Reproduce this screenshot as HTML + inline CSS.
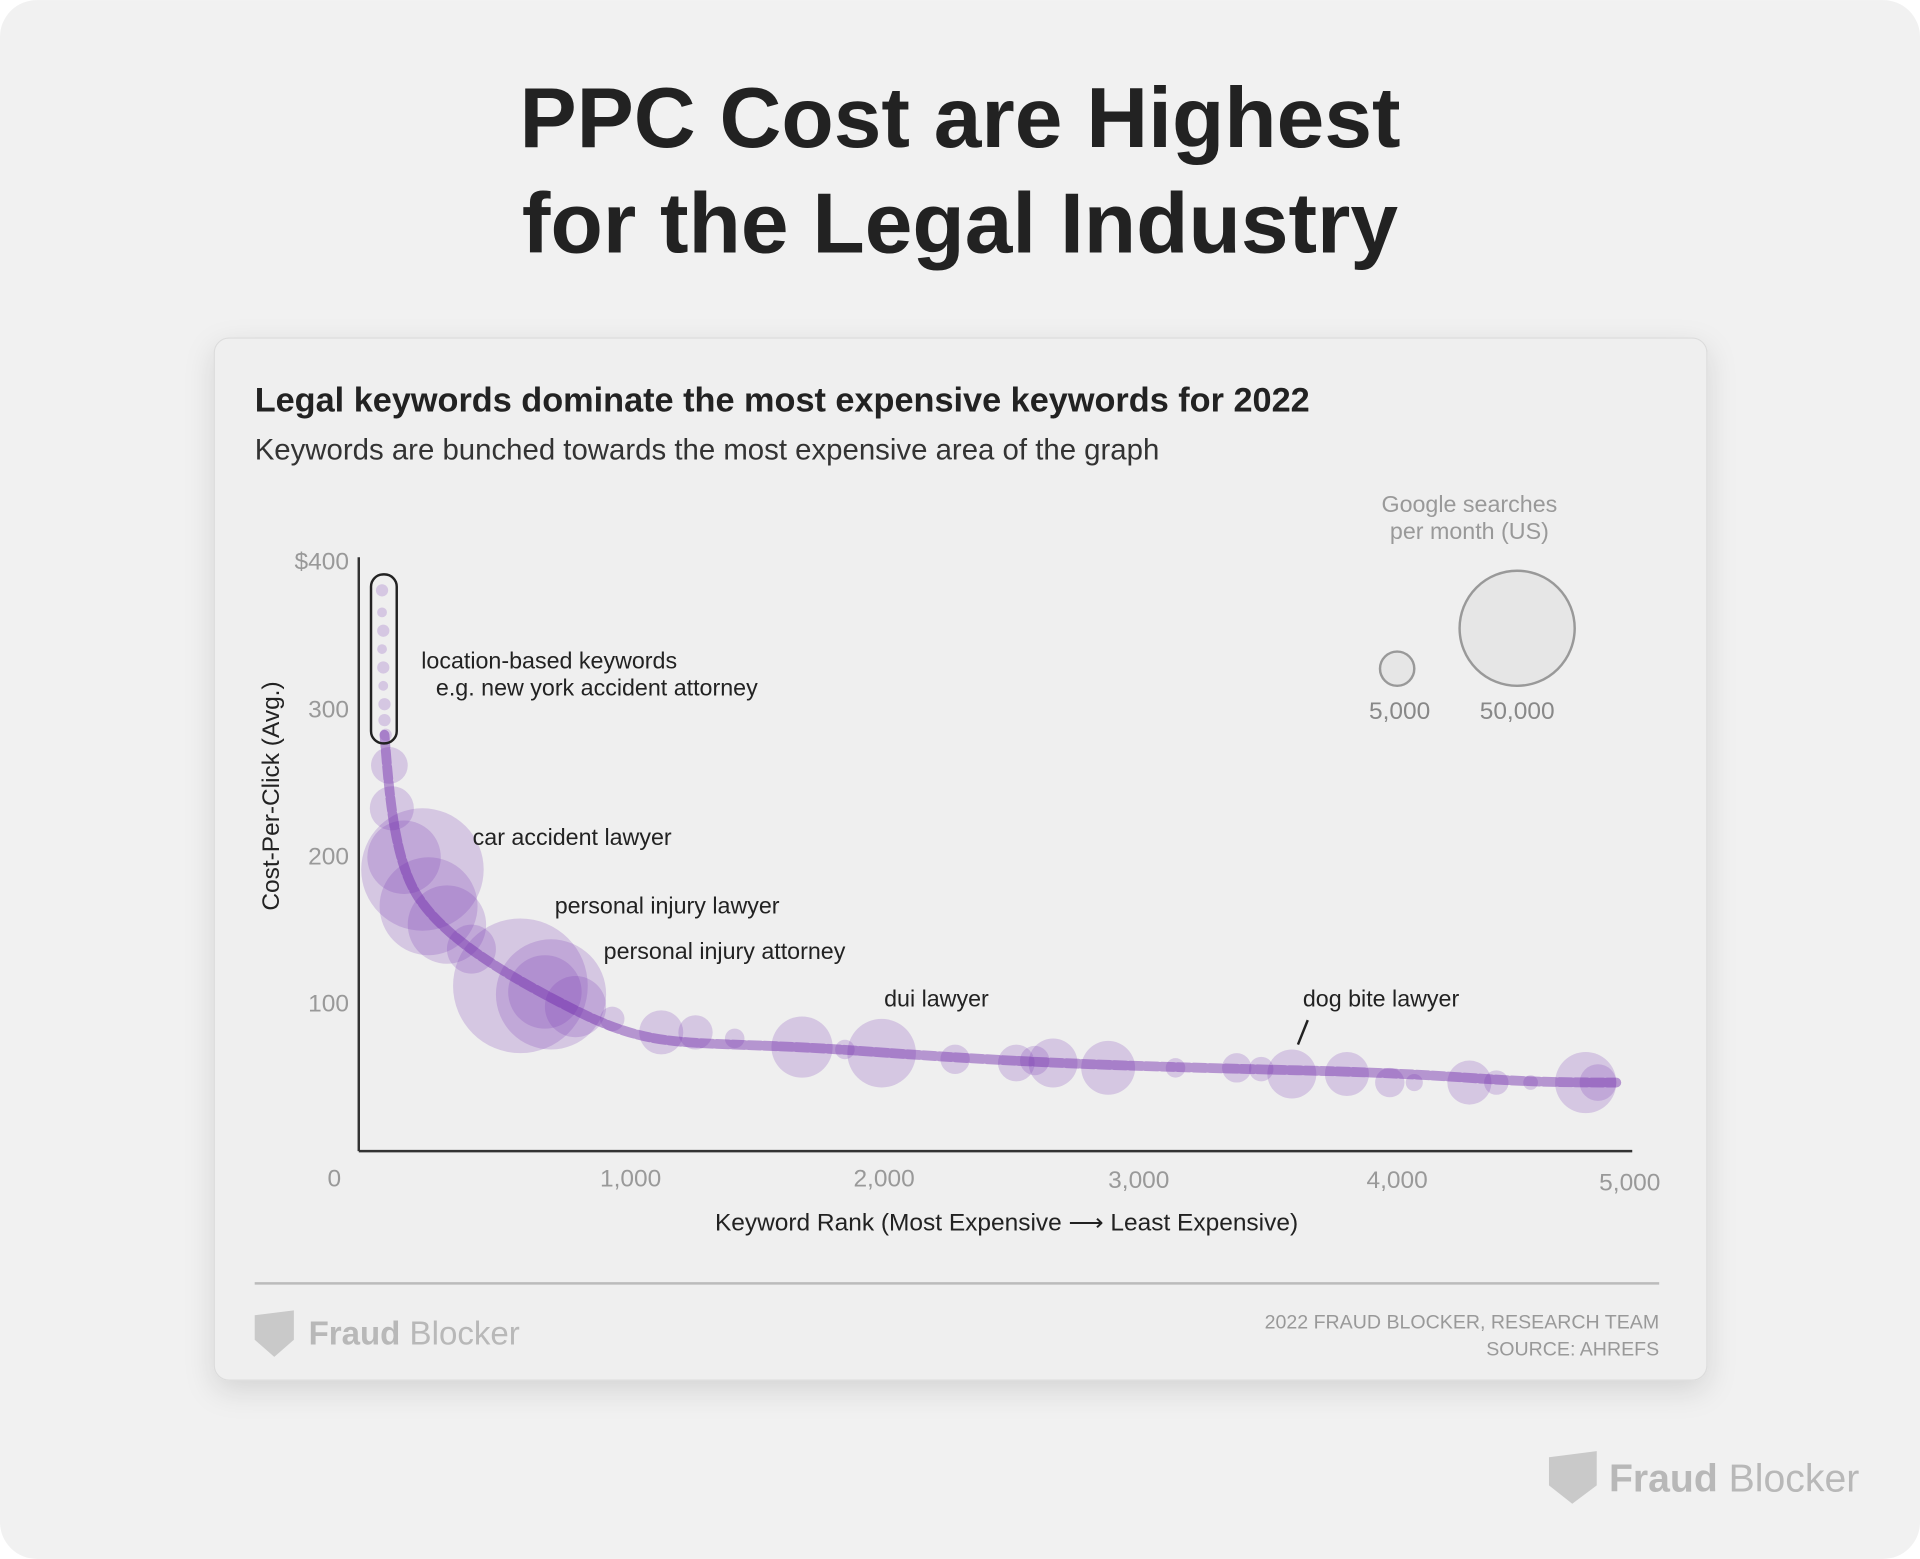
<!DOCTYPE html>
<html><head><meta charset="utf-8"><style>
html,body{margin:0;padding:0;background:#fff;}
svg{display:block;font-family:"Liberation Sans",sans-serif;}
</style></head><body>
<svg width="1920" height="1559" viewBox="0 0 1568 1273" xmlns="http://www.w3.org/2000/svg">
<defs>
<filter id="sh" x="-10%" y="-10%" width="120%" height="130%"><feDropShadow dx="0" dy="8" stdDeviation="12" flood-color="#000" flood-opacity="0.12"/></filter>
</defs>
<rect x="0" y="0" width="1568" height="1273" rx="30" fill="#f1f1f1"/>
<text x="784" y="120" text-anchor="middle" font-size="70" font-weight="bold" fill="#222">PPC Cost are Highest</text>
<text x="784" y="206" text-anchor="middle" font-size="70" font-weight="bold" fill="#222">for the Legal Industry</text>
<rect x="175" y="276" width="1219" height="851" rx="12" fill="#efefef" stroke="#dcdcdc" filter="url(#sh)"/>
<text x="208" y="336" font-size="28" font-weight="bold" fill="#222">Legal keywords dominate the most expensive keywords for 2022</text>
<text x="208" y="375" font-size="24" fill="#333">Keywords are bunched towards the most expensive area of the graph</text>
<text x="1200" y="418" text-anchor="middle" font-size="19" fill="#999">Google searches</text>
<text x="1200" y="440" text-anchor="middle" font-size="19" fill="#999">per month (US)</text>
<circle cx="1141" cy="546" r="14" fill="#e6e6e6" stroke="#999" stroke-width="2"/>
<circle cx="1239" cy="513" r="47" fill="#e6e6e6" stroke="#999" stroke-width="2"/>
<text x="1143" y="587" text-anchor="middle" font-size="20" fill="#888">5,000</text>
<text x="1239" y="587" text-anchor="middle" font-size="20" fill="#888">50,000</text>
<line x1="293" y1="455" x2="293" y2="940" stroke="#333" stroke-width="2"/>
<line x1="293" y1="940" x2="1333" y2="940" stroke="#333" stroke-width="2"/>
<g font-size="20" fill="#999" text-anchor="end">
<text x="285" y="465">$400</text><text x="285" y="586">300</text><text x="285" y="706">200</text><text x="285" y="826">100</text>
</g>
<g font-size="20" fill="#999" text-anchor="middle">
<text x="273" y="969">0</text><text x="515" y="969">1,000</text><text x="722" y="969">2,000</text><text x="930" y="970">3,000</text><text x="1141" y="970">4,000</text><text x="1331" y="972">5,000</text>
</g>
<text x="822" y="1005" text-anchor="middle" font-size="20" fill="#222">Keyword Rank (Most Expensive ⟶ Least Expensive)</text>
<text transform="translate(228,650) rotate(-90)" text-anchor="middle" font-size="20" fill="#222">Cost-Per-Click (Avg.)</text>
<g fill="rgb(125,60,180)" fill-opacity="0.22">
<circle cx="312" cy="482" r="5"/><circle cx="312" cy="500" r="4"/><circle cx="313" cy="515" r="5"/><circle cx="312" cy="530" r="4"/><circle cx="313" cy="545" r="5"/><circle cx="313" cy="560" r="4"/><circle cx="314" cy="575" r="5"/><circle cx="314" cy="588" r="5"/><circle cx="315" cy="600" r="5"/>
<circle cx="318" cy="625" r="15"/><circle cx="320" cy="660" r="18"/><circle cx="330" cy="700" r="30"/><circle cx="345" cy="710" r="50"/><circle cx="350" cy="740" r="40"/><circle cx="365" cy="755" r="32"/><circle cx="385" cy="775" r="20"/>
<circle cx="425" cy="805" r="55"/><circle cx="450" cy="812" r="45"/><circle cx="445" cy="810" r="30"/><circle cx="470" cy="822" r="25"/><circle cx="500" cy="832" r="10"/>
<circle cx="540" cy="843" r="18"/><circle cx="568" cy="843" r="14"/><circle cx="600" cy="848" r="8"/><circle cx="655" cy="855" r="25"/><circle cx="690" cy="857" r="8"/>
<circle cx="720" cy="860" r="28"/><circle cx="780" cy="865" r="12"/><circle cx="830" cy="868" r="15"/><circle cx="860" cy="868" r="20"/><circle cx="845" cy="866" r="12"/>
<circle cx="905" cy="872" r="22"/><circle cx="960" cy="872" r="8"/><circle cx="1010" cy="872" r="12"/><circle cx="1030" cy="873" r="10"/><circle cx="1055" cy="877" r="20"/>
<circle cx="1100" cy="877" r="18"/><circle cx="1135" cy="884" r="12"/><circle cx="1155" cy="884" r="7"/><circle cx="1200" cy="884" r="18"/><circle cx="1222" cy="884" r="10"/><circle cx="1250" cy="884" r="6"/><circle cx="1295" cy="884" r="25"/><circle cx="1305" cy="884" r="15"/>
</g>
<path d="M314 600 C318 650 322 700 340 730 S 400 790 470 825 S 560 848 700 858 S 900 870 1060 874 S 1200 884 1320 884" fill="none" stroke="rgb(110,40,170)" stroke-opacity="0.45" stroke-width="8" stroke-linecap="round" stroke-dasharray="10 3"/>
<rect x="303" y="469" width="21" height="138" rx="10" fill="none" stroke="#222" stroke-width="2"/>
<g font-size="19" fill="#222">
<text x="344" y="546">location-based keywords</text>
<text x="356" y="568">e.g. new york accident attorney</text>
<text x="386" y="690">car accident lawyer</text>
<text x="453" y="746">personal injury lawyer</text>
<text x="493" y="783">personal injury attorney</text>
<text x="722" y="822">dui lawyer</text>
<text x="1064" y="822">dog bite lawyer</text>
</g>
<line x1="1068" y1="833" x2="1060" y2="853" stroke="#222" stroke-width="2"/>
<line x1="208" y1="1048" x2="1355" y2="1048" stroke="#bbb" stroke-width="2"/>
<path d="M208 1074 L240 1070 L240 1094 L224 1108 L208 1094 Z" fill="#c9c9c9"/>
<text x="252" y="1098" font-size="27" fill="#b8b8b8"><tspan font-weight="bold">Fraud</tspan> Blocker</text>
<text x="1355" y="1085" text-anchor="end" font-size="16" fill="#999">2022 FRAUD BLOCKER, RESEARCH TEAM</text>
<text x="1355" y="1107" text-anchor="end" font-size="16" fill="#999">SOURCE: AHREFS</text>
<path d="M1265 1190 L1304 1185 L1304 1213 L1284 1228 L1265 1213 Z" fill="#c9c9c9"/>
<text x="1314" y="1218" font-size="32" fill="#b8b8b8"><tspan font-weight="bold">Fraud</tspan> Blocker</text>
</svg>
</body></html>
